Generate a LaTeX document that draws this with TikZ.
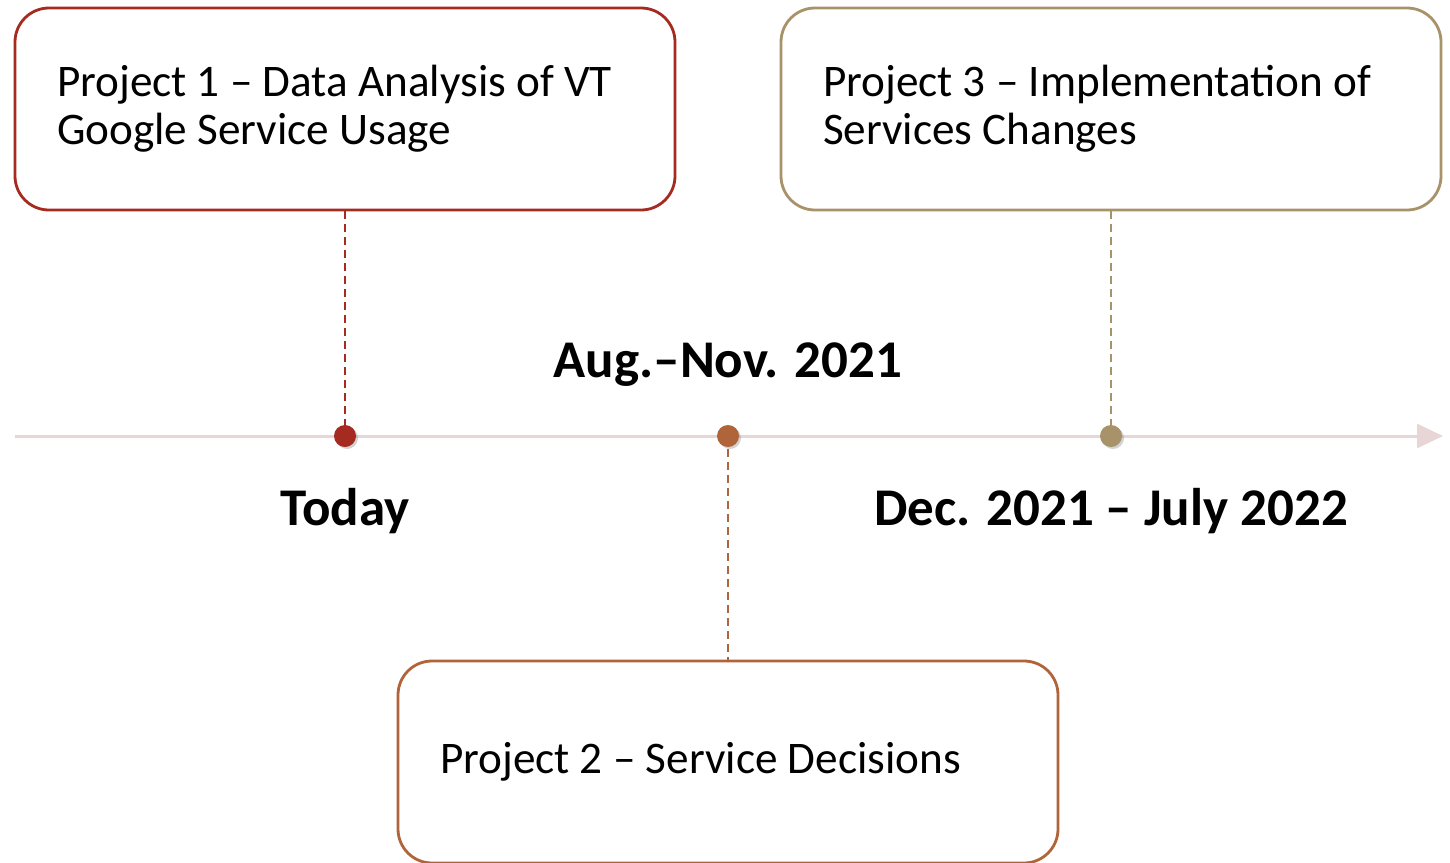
\documentclass[tikz,border=0pt]{standalone}
\usepackage{fontspec}
\setmainfont{Carlito}
\usetikzlibrary{arrows.meta}
\usetikzlibrary{shapes, shadows}
\definecolor{pred}{HTML}{A52A1F}
\definecolor{pbrown}{HTML}{B0643A}
\definecolor{ptan}{HTML}{A8926A}
\definecolor{axisline}{HTML}{E8D6D6}
\tikzset{
  projbox/.style={draw, line width=1.4pt, rounded corners=17pt, fill=white,
    minimum width=330pt, minimum height=101pt, text width=288pt, align=flush left,
    inner sep=0pt, font=\fontsize{22.6}{24}\selectfont},
  dot/.style={circle, inner sep=0pt, minimum size=11pt,
    drop shadow={opacity=0.35, shadow xshift=1pt, shadow yshift=-1pt}},
  link/.style={line width=0.9pt, dash pattern=on 4pt off 2.5pt},
  datelabel/.style={font=\fontsize{26.5}{30}\selectfont\bfseries, anchor=base},
}
\begin{document}
\begin{tikzpicture}[x=0.5pt,y=-0.5pt,>=Triangle]
%%
\useasboundingbox (0,0) rectangle (1450,862);
\clip (0,0) rectangle (1450,862);
\coordinate (axis_start) at (15,436);
\coordinate (axis_end) at (1443,436);
\draw [axisline, line width=1.5pt, -{Triangle[length=13pt,width=12pt]}] (axis_start) -- (axis_end);
%
\node (box_1) at (345,109) [projbox, draw=pred] {Project 1 -- Data Analysis of VT\\Google Service Usage};
\node (box_2) at (728,762) [projbox, draw=pbrown] {Project 2 -- Service Decisions};
\node (box_3) at (1111,109) [projbox, draw=ptan] {Project 3 -- Implementation of\\Services Changes};
%
\draw [link, pred] (box_1.south) -- (345,436);
\draw [link, pbrown] (728,436) -- (box_2.north);
\draw [link, ptan] (box_3.south) -- (1111,436);
%
\node (dot_1) at (345,436) [dot, fill=pred] {};
\node (dot_2) at (728,436) [dot, fill=pbrown] {};
\node (dot_3) at (1111,436) [dot, fill=ptan] {};
%
\node (date_1) at (345,525) [datelabel] {Today};
\node (date_2) at (728,377) [datelabel] {Aug.--Nov. 2021};
\node (date_3) at (1111,525) [datelabel] {Dec. 2021 -- July 2022};
%
\end{tikzpicture}
\end{document}
